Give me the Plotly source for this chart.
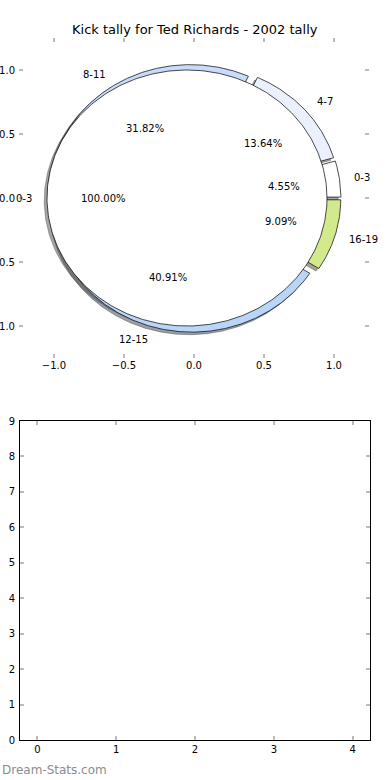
import numpy as np
import plotly.graph_objects as go

# ---- data ----
outer_labels = ["0-3", "4-7", "8-11", "12-15", "16-19"]
outer_counts = [1, 3, 7, 9, 2]
outer_colors = ["#ffffff", "#eaf1fd", "#c8dbf8", "#b9d5f9", "#d2ea8c"]
inner_labels = ["0-3"]
inner_counts = [22]
inner_colors = ["#ffffff"]
pie_ticks = [-1.0, -0.5, 0.0, 0.5, 1.0]
pie_ticktext = ["\u22121.0", "\u22120.5", "0.0", "0.5", "1.0"]
bottom_xticks = [0, 1, 2, 3, 4]
bottom_yticks = [0, 1, 2, 3, 4, 5, 6, 7, 8, 9]
title_text = "Kick tally for Ted Richards - 2002 tally"
watermark = "Dream-Stats.com"

RADIUS = 1.0
EXPLODE = 0.05
SH_OFF = -0.02
FONT = "DejaVu Sans"

fig = go.Figure()


def hex_to_rgb(h):
    h = h.lstrip("#")
    return tuple(int(h[i:i + 2], 16) for i in (0, 2, 4))


def wedges(counts):
    total = float(sum(counts))
    out = []
    t1 = 0.0
    for c in counts:
        frac = c / total
        t2 = t1 + 360.0 * frac
        tm = np.deg2rad((t1 + t2) / 2.0)
        cx = EXPLODE * np.cos(tm)
        cy = EXPLODE * np.sin(tm)
        th = np.deg2rad(np.linspace(t1, t2, 361))
        ax_ = cx + RADIUS * np.cos(th)
        ay_ = cy + RADIUS * np.sin(th)
        if frac < 0.9999:
            xs = np.concatenate([[cx], ax_, [cx]])
            ys = np.concatenate([[cy], ay_, [cy]])
        else:
            xs, ys = ax_, ay_
        out.append(dict(xs=xs, ys=ys, cx=cx, cy=cy, tm=tm, frac=frac))
        t1 = t2
    return out


outer = wedges(outer_counts)
inner = wedges(inner_counts)

# shadows (drawn below all wedges)
for w, col in list(zip(outer, outer_colors)) + list(zip(inner, inner_colors)):
    r, g, b = hex_to_rgb(col)
    sc = "rgba(%d,%d,%d,0.5)" % (int(r * 0.3), int(g * 0.3), int(b * 0.3))
    fig.add_trace(go.Scatter(x=w["xs"] + SH_OFF, y=w["ys"] + SH_OFF, mode="lines",
                             fill="toself", fillcolor=sc, line=dict(color=sc, width=0.8),
                             hoverinfo="skip", showlegend=False, xaxis="x", yaxis="y"))

# wedges
for w, col in list(zip(outer, outer_colors)) + list(zip(inner, inner_colors)):
    fig.add_trace(go.Scatter(x=w["xs"], y=w["ys"], mode="lines",
                             fill="toself", fillcolor=col, line=dict(color="black", width=0.7),
                             hoverinfo="skip", showlegend=False, xaxis="x", yaxis="y"))

annotations = []
for ws, labs in ((outer, outer_labels), (inner, inner_labels)):
    for w, lab in zip(ws, labs):
        xt = w["cx"] + 1.1 * RADIUS * np.cos(w["tm"])
        yt = w["cy"] + 1.1 * RADIUS * np.sin(w["tm"])
        annotations.append(dict(x=xt, y=yt, xref="x", yref="y", text=lab, showarrow=False,
                                xanchor="left" if xt > 0 else "right", yanchor="middle",
                                borderpad=0,
                                font=dict(family=FONT, size=10, color="black")))
        xp = w["cx"] + 0.6 * RADIUS * np.cos(w["tm"])
        yp = w["cy"] + 0.6 * RADIUS * np.sin(w["tm"])
        annotations.append(dict(x=xp, y=yp, xref="x", yref="y", text="%.2f%%" % (w["frac"] * 100),
                                showarrow=False, xanchor="center", yanchor="middle",
                                font=dict(family=FONT, size=10, color="black")))

annotations.append(dict(x=0, y=10 / 780.0, xref="paper", yref="paper", text=watermark,
                        showarrow=False, xanchor="left", yanchor="middle",
                        font=dict(family=FONT, size=12, color="#8c8c8c")))
annotations.append(dict(x=195 / 390.0, y=1 - 30 / 780.0, xref="paper", yref="paper", text=title_text,
                        showarrow=False, xanchor="center", yanchor="middle",
                        font=dict(family=FONT, size=13, color="black")))

# empty bottom axes trace (invisible) to activate axes
fig.add_trace(go.Scatter(x=[None], y=[None], mode="markers", xaxis="x2", yaxis="y2",
                         showlegend=False, hoverinfo="skip"))

tick_common = dict(ticks="inside", ticklen=4, tickwidth=1.5, tickcolor="#bbbbbb",
                   showgrid=False, zeroline=False, automargin=False,
                   tickfont=dict(family=FONT, size=10, color="black"))

fig.update_layout(
    width=390, height=780,
    margin=dict(l=0, r=0, t=0, b=0, autoexpand=False),
    paper_bgcolor="white", plot_bgcolor="white",
    showlegend=False,
    annotations=annotations,
    xaxis=dict(domain=[19 / 390.0, 369 / 390.0], range=[-1.25, 1.25], anchor="y",
               tickvals=pie_ticks, ticktext=pie_ticktext, showline=False, mirror="allticks",
               **tick_common),
    yaxis=dict(domain=[1 - 358 / 780.0, 1 - 38 / 780.0], range=[-1.25, 1.25], anchor="x",
               tickvals=pie_ticks, ticktext=pie_ticktext, showline=False, mirror="allticks",
               ticklabelstandoff=3, **tick_common),
    xaxis2=dict(domain=[20 / 390.0, 370 / 390.0], range=[-0.22, 4.22], anchor="y2",
                tickvals=bottom_xticks, showline=True, linecolor="black", linewidth=1,
                mirror="ticks", **tick_common),
    yaxis2=dict(domain=[1 - 740 / 780.0, 1 - 421 / 780.0], range=[0, 9], anchor="x2",
                tickvals=bottom_yticks, showline=True, linecolor="black", linewidth=1,
                mirror="ticks", ticklabelstandoff=2, **tick_common),
)

fig.write_html("out.html", config={"displayModeBar": False},
               post_script="document.body.style.margin='0';document.body.style.padding='0';")
